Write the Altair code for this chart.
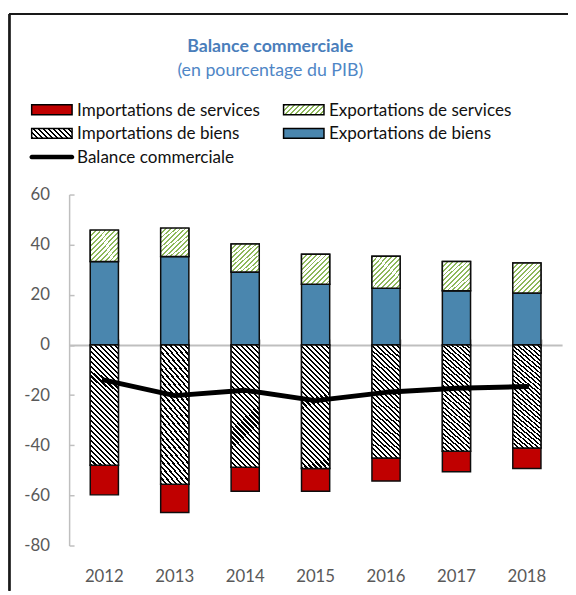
import altair as alt
import pandas as pd

# ---- data ----
years = ["2012", "2013", "2014", "2015", "2016", "2017", "2018"]
exp_biens = [33.3, 35.3, 29.1, 24.2, 22.6, 21.6, 20.7]
exp_services = [12.5, 11.3, 11.2, 12.0, 12.8, 11.7, 12.0]
imp_biens = [48.0, 55.6, 48.8, 49.3, 45.1, 42.4, 41.1]
imp_services = [11.8, 11.2, 9.6, 9.1, 9.2, 8.2, 8.2]
balance = [-14.0, -20.2, -18.1, -22.2, -18.9, -17.3, -16.6]
y_ticks = [-80, -60, -40, -20, 0, 20, 40, 60]

series_names = ["Importations de services", "Exportations de services",
                "Importations de biens", "Exportations de biens",
                "Balance commerciale"]
series_colors = ["#c00000", "#eaf1dd", "#bfbfbf", "#4a86ae", "#000000"]
legend_col = [0, 1, 0, 1, 0]
legend_row = [0, 0, 1, 1, 2]

# ---- tables built from the arrays (explicit stacking) ----
rows = []
for i, yr in enumerate(years):
    rows.append({"year": yr, "series": series_names[3], "y0": 0, "y1": exp_biens[i]})
    rows.append({"year": yr, "series": series_names[1], "y0": exp_biens[i],
                 "y1": exp_biens[i] + exp_services[i]})
    rows.append({"year": yr, "series": series_names[2], "y0": -imp_biens[i], "y1": 0})
    rows.append({"year": yr, "series": series_names[0],
                 "y0": -imp_biens[i] - imp_services[i], "y1": -imp_biens[i]})
bars = pd.DataFrame(rows)
line_df = pd.DataFrame({"year": years, "value": balance})
legend_df = pd.DataFrame({"series": series_names, "col": legend_col, "row": legend_row})


def stripes(line, bg, n, frac, x1, y1, x2, y2):
    stops = []
    for i in range(n):
        a = round(i / n, 4)
        b = round((i + frac) / n, 4)
        c = round((i + 1) / n, 4)
        stops += [{"offset": a, "color": line}, {"offset": b, "color": line},
                  {"offset": b, "color": bg}, {"offset": c, "color": bg}]
    return {"gradient": "linear", "x1": x1, "y1": y1, "x2": x2, "y2": y2, "stops": stops}


def back_hatch(line, bg, n, frac, r):
    # stripes running top-left -> bottom-right, r = height/width of the box
    k = (1 + r) / (1 + r * r)
    return stripes(line, bg, n, frac, 0, 1, round(k, 4), round(1 - k * r, 4))


def fwd_hatch(line, bg, n, frac, r):
    # stripes running bottom-left -> top-right
    k = (1 + r) / (1 + r * r)
    return stripes(line, bg, n, frac, 0, 0, round(k, 4), round(k * r, 4))


grad_imp = back_hatch("#000000", "#ffffff", 30, 0.42, 4.3)
grad_exp = fwd_hatch("#8db85a", "#ffffff", 12, 0.38, 1.07)
grad_imp_leg = back_hatch("#000000", "#ffffff", 10, 0.42, 0.244)
grad_exp_leg = fwd_hatch("#8db85a", "#ffffff", 10, 0.38, 0.244)

W, H = 500, 356
zero_px = H * 60 / 140

xscale = alt.Scale(paddingInner=0.6, paddingOuter=0.3)
yscale = alt.Scale(domain=[-80, 60], nice=False)
fscale = alt.Scale(domain=series_names, range=series_colors)

x_bottom = alt.Axis(orient="bottom", title=None, domain=False, ticks=False,
                    labelPadding=24, labelFontSize=17, labelColor="#595959", labelAngle=0)
y_left = alt.Axis(orient="left", title=None, values=y_ticks, grid=False, ticks=False,
                  domainColor="#bfbfbf", domainWidth=1.5, labelPadding=20,
                  labelFontSize=17, labelColor="#595959", labelExpr="'' + datum.value")

base = alt.Chart(bars).mark_bar(stroke="#0d0d0d", strokeWidth=1.5).encode(
    x=alt.X("year:N", scale=xscale, axis=x_bottom),
    y=alt.Y("y0:Q", scale=yscale, axis=y_left),
    y2="y1:Q",
    fill=alt.Fill("series:N", scale=fscale, legend=None),
)

x_zero = alt.Axis(orient="top", offset=-zero_px, title=None, labels=False,
                  domainColor="#bfbfbf", domainWidth=2, ticks=True, tickBand="extent",
                  tickColor="#bfbfbf", tickWidth=1.5, tickSize=6, grid=False)
y_right = alt.Axis(orient="right", offset=-W, title=None, labels=False, domain=False,
                   values=y_ticks, ticks=True, tickColor="#bfbfbf", tickWidth=1.5,
                   tickSize=5, grid=False)

hatch_imp = alt.Chart(bars).transform_filter(
    alt.datum.series == series_names[2]
).mark_bar(stroke="#0d0d0d", strokeWidth=1.5).encode(
    x=alt.X("year:N", scale=xscale, axis=x_zero),
    y=alt.Y("y0:Q", scale=yscale, axis=y_right),
    y2="y1:Q",
    fill=alt.value(grad_imp),
)

hatch_exp = alt.Chart(bars).transform_filter(
    alt.datum.series == series_names[1]
).mark_bar(stroke="#0d0d0d", strokeWidth=1.5).encode(
    x=alt.X("year:N", scale=xscale, axis=None),
    y=alt.Y("y0:Q", scale=yscale, axis=None),
    y2="y1:Q",
    fill=alt.value(grad_exp),
)

line = alt.Chart(line_df).mark_line(
    color="#000000", strokeWidth=5, strokeCap="round", strokeJoin="round"
).encode(
    x=alt.X("year:N", scale=xscale, axis=None),
    y=alt.Y("value:Q", scale=yscale, axis=None),
)

main = alt.layer(base, hatch_imp, hatch_exp, line).resolve_axis(
    x="independent", y="independent")

# ---- legend drawn as its own layers (own scales: column / row of each entry) ----
lx = alt.X("col:Q", scale=alt.Scale(domain=[0, 1], range=[-17.5, 238]), axis=None)
ly = alt.Y("row:Q", scale=alt.Scale(domain=[0, 2], range=[-86, -38]), axis=None)
rect_path = "M-4.1,-1H4.1V1H-4.1Z"
line_path = ("M-4.1,-0.3H4.1L4.3,-0.22L4.4,0L4.3,0.22L4.1,0.3"
             "H-4.1L-4.3,0.22L-4.4,0L-4.3,-0.22Z")

leg_base = alt.Chart(legend_df)
leg_solid = leg_base.transform_filter(
    (alt.datum.series == series_names[0]) | (alt.datum.series == series_names[3])
).mark_point(shape=rect_path, size=100, filled=True, opacity=1,
             stroke="#000000", strokeWidth=1.5).encode(
    x=lx, y=ly, fill=alt.Fill("series:N", scale=fscale, legend=None))
leg_imp = leg_base.transform_filter(alt.datum.series == series_names[2]).mark_point(
    shape=rect_path, size=100, filled=True, opacity=1, stroke="#000000", strokeWidth=1.5
).encode(x=lx, y=ly, fill=alt.value(grad_imp_leg))
leg_exp = leg_base.transform_filter(alt.datum.series == series_names[1]).mark_point(
    shape=rect_path, size=100, filled=True, opacity=1, stroke="#000000", strokeWidth=1.5
).encode(x=lx, y=ly, fill=alt.value(grad_exp_leg))
leg_line = leg_base.transform_filter(alt.datum.series == series_names[4]).mark_point(
    shape=line_path, size=100, filled=True, opacity=1, fill="#000000",
    stroke="#000000", strokeWidth=1.5
).encode(x=lx, y=ly)
leg_text = leg_base.mark_text(
    align="left", baseline="middle", dx=25.5, dy=1, fontSize=17.3, font="Lato",
    color="#111111"
).encode(x=lx, y=ly, text="series:N")

legend_block = alt.layer(leg_solid, leg_imp, leg_exp, leg_line, leg_text)

frame_top = alt.Chart(line_df).mark_rule(color="#1a1a1a", strokeWidth=1.5).encode(
    x=alt.value(-60.5), x2=alt.value(506), y=alt.value(-183))
frame_left = alt.Chart(line_df).mark_rule(color="#1a1a1a", strokeWidth=1.5).encode(
    x=alt.value(-60.5), y=alt.value(-183), y2=alt.value(402))

chart = alt.layer(main, legend_block, frame_top, frame_left).resolve_scale(
    x="independent", y="independent"
).resolve_axis(
    x="independent", y="independent"
).properties(
    width=W, height=H,
    padding={"left": 62, "top": 185, "right": 6, "bottom": 46},
    autosize=alt.AutoSizeParams(type="none"),
    title=alt.TitleParams(
        "Balance commerciale", subtitle="(en pourcentage du PIB)",
        anchor="middle", frame="group", dx=-46, offset=0, dy=68,
        font="Lato", fontSize=18, fontWeight="bold", color="#4a7ebb",
        subtitleFont="Lato", subtitleFontSize=18, subtitleColor="#4f86c6",
        subtitlePadding=7,
    ),
).configure(font="Lato").configure_view(stroke=None)

chart.save("out.html", embed_options={"renderer": "svg", "actions": False})
